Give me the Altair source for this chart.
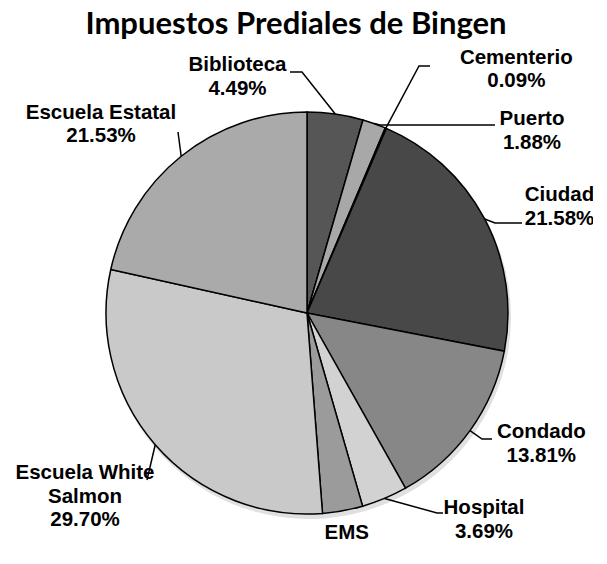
import math
import altair as alt
import pandas as pd

# ---------------- data ----------------
categories = ["Biblioteca", "Puerto", "Cementerio", "Ciudad", "Condado",
              "Hospital", "EMS", "Escuela White Salmon", "Escuela Estatal"]
values = [4.49, 1.88, 0.09, 21.58, 13.81, 3.69, 3.23, 29.70, 21.53]
name_lines = [["Biblioteca"], ["Puerto"], ["Cementerio"], ["Ciudad"], ["Condado"],
              ["Hospital"], ["EMS"], ["Escuela White", "Salmon"], ["Escuela Estatal"]]
colors = ["#565656", "#a8a8a8", "#333333", "#484848", "#878787",
          "#d2d2d2", "#9b9b9b", "#c9c9c9", "#aaaaaa"]
title_text = "Impuestos Prediales de Bingen"

# ---------------- layout ----------------
W, H = 585, 540
CX, CY, R = 299, 305, 201
LINE_H = 23.5
label_anchor = {
    "Biblioteca": (229.5, 57), "Puerto": (524, 111), "Cementerio": (508.3, 49.8),
    "Ciudad": (551.5, 187), "Condado": (533.3, 424.3), "Hospital": (476, 500.3),
    "EMS": (338.7, 525), "Escuela White Salmon": (77, 465), "Escuela Estatal": (93, 104.7),
}
leader_elbows = {
    "Biblioteca": [(294, 64), (282, 64)],
    "Puerto": [(372, 117), (487, 117)],
    "Cementerio": [(411, 58), (422, 58)],
    "Ciudad": [(487, 215), (514, 215)],
    "Condado": [(474, 431), (484, 431)],
    "Hospital": [(429, 505), (435, 505)],
    "Escuela White Salmon": [(139, 472)],
    "Escuela Estatal": [(170, 124)],
}

# ---------------- tables ----------------
pie = pd.DataFrame({"category": categories, "value": values, "order": range(len(categories))})

total = sum(values)
rows_lines, rows_text = [], []
cum = 0.0
for cat, v, lines in zip(categories, values, name_lines):
    mid = (cum + v / 2) / total * 2 * math.pi
    cum += v
    ex, ey = CX + R * math.sin(mid), CY - R * math.cos(mid)
    if cat in leader_elbows:
        pts = [(ex, ey)] + leader_elbows[cat]
        for i, (px, py) in enumerate(pts):
            rows_lines.append({"category": cat, "seq": i, "x": px, "y": py})
    ax, ay = label_anchor[cat]
    for i, t in enumerate(lines + [f"{v:.2f}%"]):
        rows_text.append({"category": cat, "text": t, "x": ax, "y": ay + i * LINE_H})

leaders = pd.DataFrame(rows_lines)
labels = pd.DataFrame(rows_text)

xs = alt.Scale(domain=[0, W], nice=False, zero=False)
ys = alt.Scale(domain=[0, H], nice=False, zero=False, reverse=True)

theta = alt.Theta("value:Q", stack=True)
order = alt.Order("order:Q")

shadow = alt.Chart(pie).mark_arc(outerRadius=R + 1, color="#000000", opacity=0.12).encode(
    theta=theta, order=order, x=alt.value(CX + 2), y=alt.value(CY + 4)
)

slices = alt.Chart(pie).mark_arc(outerRadius=R, stroke="#000000", strokeWidth=1.5).encode(
    theta=theta,
    order=order,
    color=alt.Color("category:N", scale=alt.Scale(domain=categories, range=colors), legend=None),
    x=alt.value(CX),
    y=alt.value(CY),
)

lines_layer = alt.Chart(leaders).mark_line(color="#000000", strokeWidth=1.5).encode(
    x=alt.X("x:Q", scale=xs, axis=None),
    y=alt.Y("y:Q", scale=ys, axis=None),
    detail="category:N",
    order="seq:Q",
)

text_layer = alt.Chart(labels).mark_text(
    font="Liberation Sans", fontWeight="bold", fontSize=20.5,
    align="center", baseline="middle", color="#000000"
).encode(
    x=alt.X("x:Q", scale=xs, axis=None),
    y=alt.Y("y:Q", scale=ys, axis=None),
    text="text:N",
)

title_layer = alt.Chart(pd.DataFrame({"t": [title_text]})).mark_text(
    font="Lato", fontWeight="bold", fontSize=31, align="center", baseline="alphabetic", color="#000000"
).encode(
    x=alt.value(288), y=alt.value(25.5), text="t:N"
)

chart = alt.layer(shadow, slices, lines_layer, text_layer, title_layer).properties(
    width=W, height=H, padding=0, autosize="none"
).configure_view(stroke=None)

chart.save("out.html", embed_options={"renderer": "svg", "actions": False})
